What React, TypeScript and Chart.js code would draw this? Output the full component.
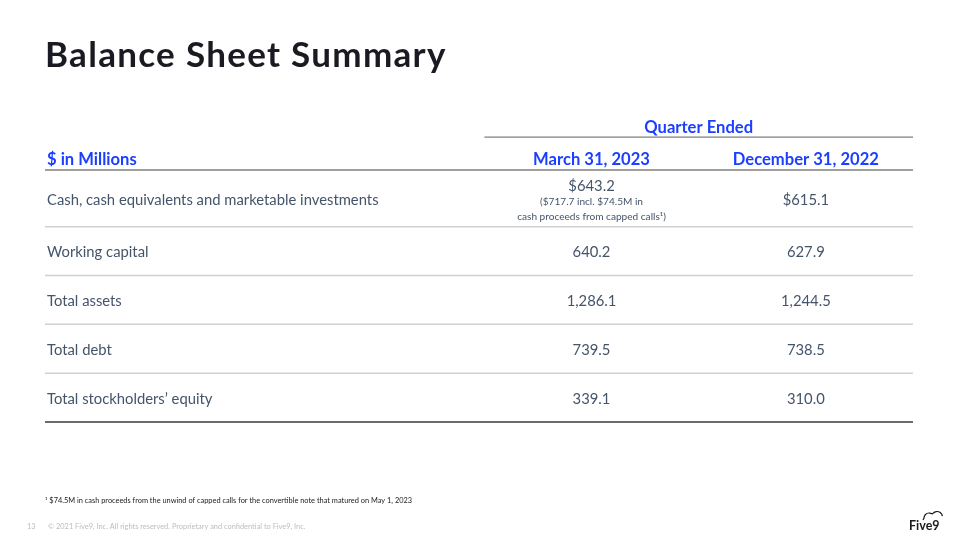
import React, { useEffect, useRef } from "react";
import { Chart, registerables } from "chart.js";
Chart.register(...registerables);

// ---- data ----
const title = "Balance Sheet Summary";
const groupHeader = "Quarter Ended";
const unitHeader = "$ in Millions";
const periods = ["March 31, 2023", "December 31, 2022"];
const rowLabels = [
  "Cash, cash equivalents and marketable investments",
  "Working capital",
  "Total assets",
  "Total debt",
  "Total stockholders’ equity",
];
const march2023 = [643.2, 640.2, 1286.1, 739.5, 339.1];
const december2022 = [615.1, 627.9, 1244.5, 738.5, 310.0];
const cashNote = ["($717.7 incl. $74.5M in", "cash proceeds from capped calls¹)"];
const footnote =
  "¹ $74.5M in cash proceeds from the unwind of capped calls for the convertible note that matured on May 1, 2023";
const copyright =
  "© 2021 Five9, Inc. All rights reserved. Proprietary and confidential to Five9, Inc.";
const pageNumber = "13";
const logoText = "Five9";

// ---- layout (relative units) ----
const colUnits = [2.05, 1, 1];
const rowUnits = [1.16, 1, 1, 1, 1];
const cum = (a: number[]) => a.reduce((acc: number[], v) => [...acc, acc[acc.length - 1] + v], [0]);
const colEdges = cum(colUnits);
const rowEdges = cum(rowUnits);
const xMax = colEdges[colEdges.length - 1];
const yMax = rowEdges[rowEdges.length - 1];

const FONT = "Lato, 'Open Sans', sans-serif";
const BLUE = "#1c3fff";
const TEXT = "#44546a";
const DY = 1.5; // baseline nudge for Lato's "middle"

const fmt = (v: number, i: number) =>
  (i === 0 ? "$" : "") + v.toLocaleString("en-US", { minimumFractionDigits: 1, maximumFractionDigits: 1 });

const rowCenter = (i: number) => (rowEdges[i] + rowEdges[i + 1]) / 2;
const colCenter = (c: number) => (colEdges[c] + colEdges[c + 1]) / 2;

const tablePlugin = {
  id: "tableText",
  afterDraw(chart: any) {
    const ctx = chart.ctx as CanvasRenderingContext2D;
    const xs = chart.scales.x;
    const ys = chart.scales.y;
    const px = (u: number) => xs.getPixelForValue(u);
    const py = (u: number) => ys.getPixelForValue(u);
    ctx.save();

    // Title
    ctx.fillStyle = "#1a1a22";
    ctx.font = `bold 35px ${FONT}`;
    (ctx as any).letterSpacing = "1.3px";
    ctx.textAlign = "left";
    ctx.textBaseline = "alphabetic";
    ctx.fillText(title, 45, 67);
    (ctx as any).letterSpacing = "0px";

    // rules
    const line = (x1: number, x2: number, y: number, color: string, w: number) => {
      ctx.strokeStyle = color;
      ctx.lineWidth = w;
      ctx.beginPath();
      ctx.moveTo(x1, y);
      ctx.lineTo(x2, y);
      ctx.stroke();
    };
    line(px(colEdges[1]), px(xMax), py(-0.675), "#7f7f7f", 1.2);
    line(px(0), px(xMax), py(0), "#7f7f7f", 1.4);
    for (let i = 1; i < rowEdges.length - 1; i++) line(px(0), px(xMax), py(rowEdges[i]), "#d0d0d0", 1.5);
    line(px(0), px(xMax), py(yMax), "#3a3a3a", 1.4);

    // headers
    ctx.fillStyle = BLUE;
    ctx.font = `bold 16.6px ${FONT}`;
    ctx.textBaseline = "middle";
    ctx.textAlign = "center";
    ctx.fillText(groupHeader, (px(colEdges[1]) + px(xMax)) / 2, py(-0.9) + DY);
    periods.forEach((p, c) => ctx.fillText(p, px(colCenter(c + 1)), py(-0.245) + DY));
    ctx.textAlign = "left";
    ctx.fillText(unitHeader, px(0) + 2, py(-0.245) + DY);

    // body cells from dataset elements
    ctx.fillStyle = TEXT;
    const labelMeta = chart.getDatasetMeta(0);
    ctx.font = `14.8px ${FONT}`;
    labelMeta.data.forEach((pt: any, i: number) => {
      ctx.textAlign = "left";
      ctx.fillText(rowLabels[i], pt.x + 2, pt.y + DY);
    });
    [march2023, december2022].forEach((vals, d) => {
      const meta = chart.getDatasetMeta(d + 1);
      meta.data.forEach((pt: any, i: number) => {
        ctx.textAlign = "center";
        ctx.font = `14.8px ${FONT}`;
        if (d === 0 && i === 0) {
          ctx.fillText(fmt(vals[i], i), pt.x, pt.y - 14 + DY);
          ctx.font = `10.1px ${FONT}`;
          ctx.fillText(cashNote[0], pt.x, pt.y + 1.5 + DY);
          ctx.fillText(cashNote[1], pt.x, pt.y + 16.5 + DY);
        } else {
          ctx.fillText(fmt(vals[i], i), pt.x, pt.y + DY);
        }
      });
    });

    // footnotes
    ctx.textAlign = "left";
    ctx.fillStyle = "#222";
    ctx.font = `7.4px ${FONT}`;
    ctx.fillText(footnote, 45, 501);
    ctx.fillStyle = "#bdbdbd";
    ctx.font = `7.4px ${FONT}`;
    ctx.fillText(pageNumber, 27, 527);
    ctx.fillText(copyright, 48, 527);

    // logo
    ctx.fillStyle = "#1a1a1a";
    ctx.font = `bold 12.5px ${FONT}`;
    ctx.textAlign = "left";
    ctx.textBaseline = "alphabetic";
    ctx.fillText(logoText, 909, 530);
    ctx.strokeStyle = "#1a1a1a";
    ctx.lineWidth = 1.2;
    ctx.beginPath();
    ctx.moveTo(923, 520);
    ctx.arc(929, 518, 5, Math.PI * 1.0, Math.PI * 1.55);
    ctx.arc(937, 517, 5.5, Math.PI * 1.2, Math.PI * 1.95);
    ctx.stroke();

    ctx.restore();
  },
};

export default function App() {
  const ref = useRef<HTMLCanvasElement>(null);
  useEffect(() => {
    document.body.style.margin = "0";
    document.body.style.background = "#ffffff";
    const cell = (c: number) => rowLabels.map((_, i) => ({ x: c === 0 ? colEdges[0] : colCenter(c), y: rowCenter(i) }));
    const chart = new Chart(ref.current!, {
      type: "scatter",
      data: {
        datasets: [
          { label: "Item", data: cell(0), pointRadius: 0 },
          { label: periods[0], data: cell(1), pointRadius: 0 },
          { label: periods[1], data: cell(2), pointRadius: 0 },
        ],
      },
      options: {
        responsive: false,
        animation: false,
        devicePixelRatio: 1,
        layout: { padding: { left: 45, right: 47, top: 170, bottom: 118 } },
        plugins: { legend: { display: false }, tooltip: { enabled: false } },
        scales: {
          x: { type: "linear", min: 0, max: xMax, display: false },
          y: { type: "linear", min: 0, max: yMax, reverse: true, display: false },
        },
      },
      plugins: [tablePlugin],
    });
    return () => chart.destroy();
  }, []);
  return <canvas ref={ref} width={960} height={540} style={{ display: "block" }} />;
}
